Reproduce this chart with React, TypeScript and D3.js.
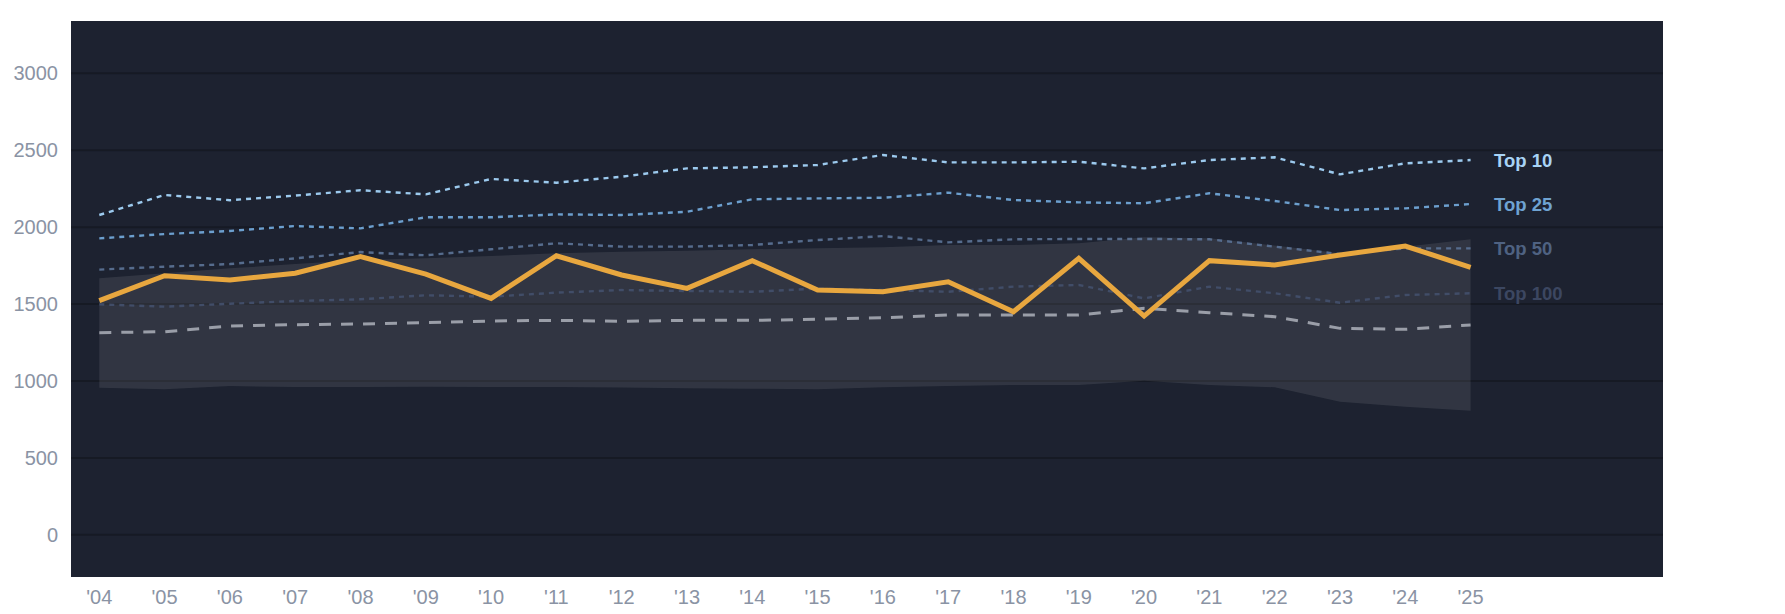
import { useMemo } from "react";
import * as d3 from "d3";

// years shown on the x axis ('04 .. '25)
const years = [
  2004, 2005, 2006, 2007, 2008, 2009, 2010, 2011, 2012, 2013, 2014,
  2015, 2016, 2017, 2018, 2019, 2020, 2021, 2022, 2023, 2024, 2025,
];

const top10 = [2079, 2209, 2175, 2205, 2240, 2213, 2313, 2289, 2328, 2382, 2389, 2404, 2469, 2421, 2421, 2425, 2382, 2436, 2454, 2343, 2415, 2436];
const top25 = [1927, 1955, 1975, 2007, 1992, 2064, 2064, 2083, 2079, 2100, 2181, 2187, 2191, 2224, 2176, 2161, 2155, 2220, 2170, 2111, 2122, 2150];
const top50 = [1724, 1743, 1760, 1797, 1838, 1817, 1856, 1895, 1873, 1873, 1884, 1916, 1942, 1901, 1921, 1923, 1923, 1921, 1873, 1825, 1862, 1862];
const top100 = [1498, 1483, 1502, 1520, 1531, 1557, 1548, 1574, 1591, 1585, 1580, 1600, 1591, 1580, 1613, 1624, 1537, 1613, 1570, 1509, 1559, 1570];
const median = [1314, 1320, 1357, 1366, 1370, 1379, 1390, 1394, 1388, 1394, 1394, 1401, 1411, 1429, 1429, 1429, 1472, 1444, 1418, 1342, 1336, 1364];
const highlight = [1522, 1684, 1656, 1700, 1808, 1695, 1537, 1814, 1689, 1602, 1782, 1591, 1580, 1645, 1450, 1797, 1422, 1782, 1754, 1819, 1877, 1739];
const bandHigh = [1667, 1700, 1732, 1760, 1786, 1797, 1812, 1830, 1840, 1847, 1856, 1862, 1869, 1884, 1884, 1895, 1934, 1927, 1880, 1830, 1873, 1921];
const bandLow = [956, 946, 967, 961, 961, 963, 961, 961, 957, 952, 950, 946, 959, 967, 974, 974, 1002, 974, 959, 865, 833, 807];

const yTicks = [0, 500, 1000, 1500, 2000, 2500, 3000];

const tierNames = ["Top 10", "Top 25", "Top 50", "Top 100"];
const tierValues = [top10, top25, top50, top100];
const tierLine = ["#9ccaee", "#6c9fce", "#566c8d", "#414d68"];
const tierLabel = ["#a8d3f5", "#6fa3d2", "#4f6282", "#3c4761"];

const W = 1785;
const H = 614;
const plot = { left: 71, top: 21, right: 1663, bottom: 577 };
const FONT = "'Liberation Sans', Arial, Helvetica, sans-serif";

export default function App() {
  const xScale = useMemo(
    () => d3.scaleLinear().domain([2004, 2025]).range([99.3, 1470.6]),
    []
  );
  const yScale = useMemo(
    () => d3.scaleLinear().domain([0, 3000]).range([534.8, 73.3]),
    []
  );

  const line = useMemo(
    () =>
      d3
        .line<number>()
        .x((_, i) => xScale(years[i]))
        .y((v) => yScale(v)),
    [xScale, yScale]
  );

  // shaded range between the low and high values
  const bandPath = useMemo(() => {
    const area = d3
      .area<number>()
      .x((_, i) => xScale(years[i]))
      .y0((_, i) => yScale(bandLow[i]))
      .y1((v) => yScale(v));
    return area(bandHigh) ?? "";
  }, [xScale, yScale]);

  const last = years.length - 1;

  return (
    <svg
      width={W}
      height={H}
      viewBox={`0 0 ${W} ${H}`}
      style={{ position: "absolute", left: 0, top: 0, background: "#ffffff" }}
      fontFamily={FONT}
    >
      <rect
        x={plot.left}
        y={plot.top}
        width={plot.right - plot.left}
        height={plot.bottom - plot.top}
        fill="#1d2230"
      />

      {/* grid lines */}
      {yTicks.map((v) => (
        <line
          key={`g-${v}`}
          x1={plot.left}
          x2={plot.right}
          y1={yScale(v)}
          y2={yScale(v)}
          stroke="#161a24"
          strokeWidth={2}
        />
      ))}

      <path d={bandPath} fill="rgba(255,255,255,0.09)" />

      {/* median */}
      <path
        d={line(median) ?? ""}
        fill="none"
        stroke="#9a9ea8"
        strokeWidth={3}
        strokeDasharray="12 10"
      />

      {/* tier lines, drawn faintest first */}
      {tierValues
        .map((vals, k) => ({ vals, k }))
        .reverse()
        .map(({ vals, k }) => (
          <path
            key={`t-${k}`}
            d={line(vals) ?? ""}
            fill="none"
            stroke={tierLine[k]}
            strokeWidth={2.4}
            strokeDasharray="5 5"
          />
        ))}

      <path
        d={line(highlight) ?? ""}
        fill="none"
        stroke="#e8a73f"
        strokeWidth={5}
        strokeLinejoin="miter"
      />

      {/* end labels */}
      {tierNames.map((name, k) => (
        <text
          key={`l-${k}`}
          x={xScale(years[last]) + 23.4}
          y={yScale(tierValues[k][last])}
          dy="0.36em"
          fontSize={18.5}
          fontWeight="bold"
          fill={tierLabel[k]}
        >
          {name}
        </text>
      ))}

      {/* y axis labels */}
      {yTicks.map((v) => (
        <text
          key={`y-${v}`}
          x={58}
          y={yScale(v)}
          dy="0.35em"
          textAnchor="end"
          fontSize={20}
          fill="#8a93a4"
        >
          {v}
        </text>
      ))}

      {/* x axis labels */}
      {years.map((yr) => (
        <text
          key={`x-${yr}`}
          x={xScale(yr)}
          y={604}
          textAnchor="middle"
          fontSize={20}
          fill="#8a93a4"
        >
          {`'${String(yr).slice(2)}`}
        </text>
      ))}
    </svg>
  );
}
